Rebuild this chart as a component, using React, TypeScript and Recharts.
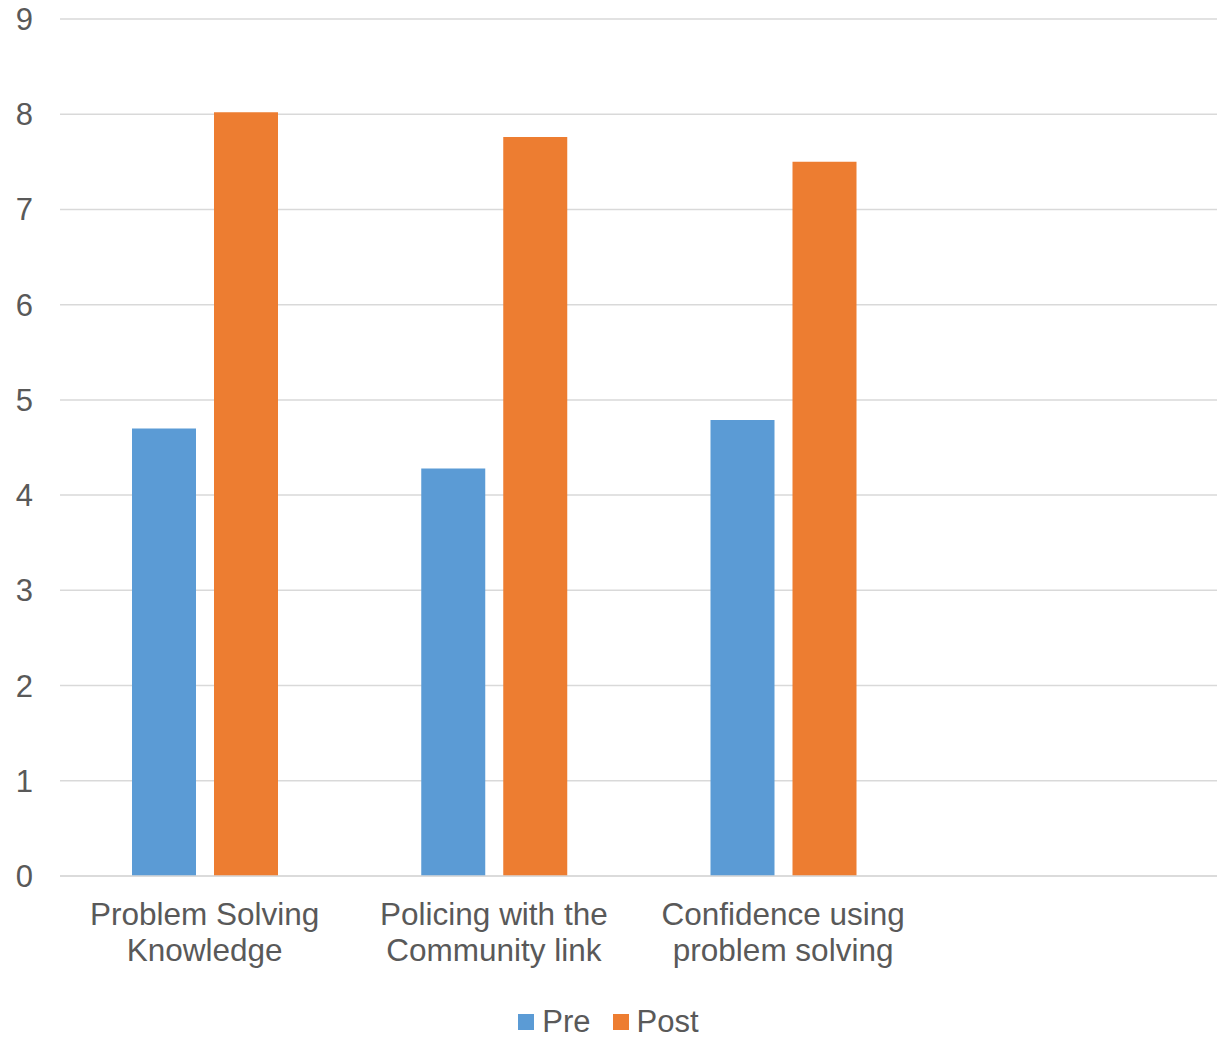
import React from 'react';
import { BarChart, Bar, XAxis, YAxis, CartesianGrid, Legend } from 'recharts';

const categories = [
  'Problem Solving\nKnowledge',
  'Policing with the\nCommunity link',
  'Confidence using\nproblem solving',
  '',
];
const preValues = [4.7, 4.28, 4.79, null];
const postValues = [8.02, 7.76, 7.5, null];
const yTicks = [0, 1, 2, 3, 4, 5, 6, 7, 8, 9];
const seriesNames = ['Pre', 'Post'];
const seriesColors = ['#5B9BD5', '#ED7D31'];

const data = categories.map((c, i) => ({ name: c, pre: preValues[i], post: postValues[i] }));

const FONT = '"Liberation Sans", Arial, sans-serif';
const TEXT = '#595959';

const XTick = (props: any) => {
  const { x, y, payload } = props;
  const lines: string[] = String(payload.value || '').split('\n');
  return (
    <text x={x} y={y} textAnchor="middle" fill={TEXT} fontSize={31.5} fontFamily={FONT}>
      {lines.map((l, i) => (
        <tspan key={i} x={x} dy={i === 0 ? 49 : 36}>
          {l}
        </tspan>
      ))}
    </text>
  );
};

const LegendContent = () => (
  <div
    style={{
      height: 34,
      lineHeight: '34px',
      display: 'flex',
      justifyContent: 'center',
      alignItems: 'center',
      fontFamily: FONT,
      fontSize: 31,
      color: TEXT,
    }}
  >
    {seriesNames.map((n, i) => (
      <div key={n} style={{ display: 'flex', alignItems: 'center', marginRight: i === 0 ? 22 : 0 }}>
        <div style={{ width: 16, height: 16, background: seriesColors[i], marginRight: 8 }} />
        <span>{n}</span>
      </div>
    ))}
  </div>
);

export default function App() {
  return (
    <div style={{ position: 'absolute', left: 0, top: 0, width: 1217, height: 1039, background: '#fff' }}>
      <BarChart
        width={1217}
        height={1039}
        data={data}
        margin={{ top: 19, right: 0, left: 0, bottom: 0 }}
        barSize={64}
        barGap={18}
      >
        <CartesianGrid vertical={false} stroke="#d9d9d9" strokeWidth={1.5} />
        <XAxis
          dataKey="name"
          interval={0}
          height={129}
          tickLine={false}
          tickSize={0}
          tickMargin={0}
          axisLine={{ stroke: '#d9d9d9', strokeWidth: 1.5 }}
          tick={<XTick />}
        />
        <YAxis
          domain={[0, 9]}
          ticks={yTicks}
          interval={0}
          width={60}
          axisLine={false}
          tickLine={false}
          tickSize={0}
          tickMargin={27}
          tick={{ fill: TEXT, fontSize: 31, fontFamily: FONT }}
        />
        <Legend verticalAlign="bottom" content={<LegendContent />} />
        <Bar dataKey="pre" name={seriesNames[0]} fill={seriesColors[0]} isAnimationActive={false} />
        <Bar dataKey="post" name={seriesNames[1]} fill={seriesColors[1]} isAnimationActive={false} />
      </BarChart>
    </div>
  );
}
